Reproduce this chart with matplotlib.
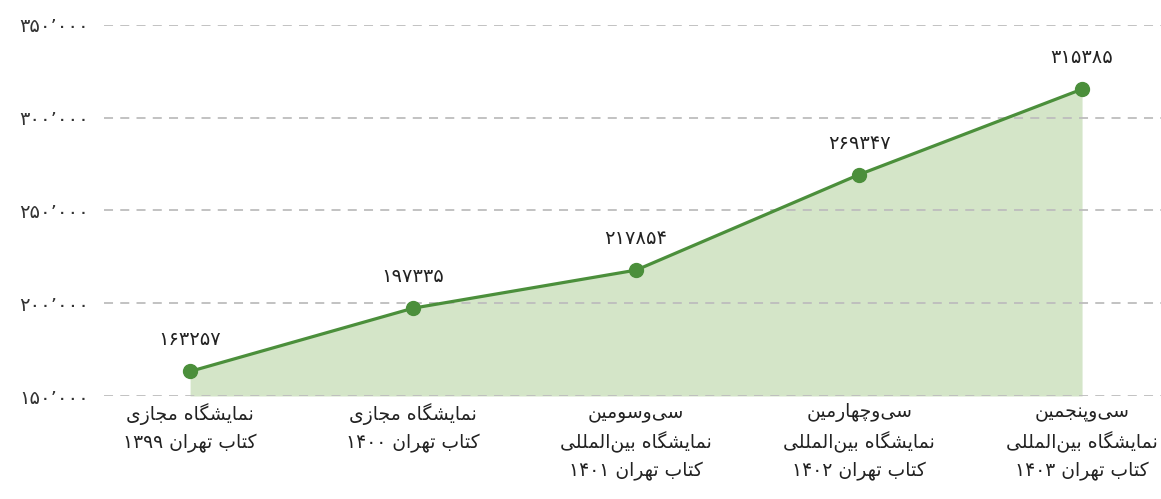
import matplotlib
matplotlib.use("Agg")
import matplotlib.pyplot as plt
from matplotlib.ticker import FuncFormatter

plt.rcParams['font.family'] = ['DejaVu Sans']

categories = [
    "نمایشگاه مجازی\nکتاب تهران ۱۳۹۹",
    "نمایشگاه مجازی\nکتاب تهران ۱۴۰۰",
    "سی‌وسومین\nنمایشگاه بین‌المللی\nکتاب تهران ۱۴۰۱",
    "سی‌وچهارمین\nنمایشگاه بین‌المللی\nکتاب تهران ۱۴۰۲",
    "سی‌وپنجمین\nنمایشگاه بین‌المللی\nکتاب تهران ۱۴۰۳",
]
visitors = [163257, 197335, 217854, 269347, 315385]
y_ticks = [150000, 200000, 250000, 300000, 350000]

# presentation forms: isolated, final, initial, medial
FORMS = {
    'ا': ('\uFE8D', '\uFE8E', None, None),
    'ب': ('\uFE8F', '\uFE90', '\uFE91', '\uFE92'),
    'پ': ('\uFB56', '\uFB57', '\uFB58', '\uFB59'),
    'ت': ('\uFE95', '\uFE96', '\uFE97', '\uFE98'),
    'ج': ('\uFE9D', '\uFE9E', '\uFE9F', '\uFEA0'),
    'چ': ('\uFB7A', '\uFB7B', '\uFB7C', '\uFB7D'),
    'ر': ('\uFEAD', '\uFEAE', None, None),
    'ز': ('\uFEAF', '\uFEB0', None, None),
    'س': ('\uFEB1', '\uFEB2', '\uFEB3', '\uFEB4'),
    'ش': ('\uFEB5', '\uFEB6', '\uFEB7', '\uFEB8'),
    'ک': ('\uFB8E', '\uFB8F', '\uFB90', '\uFB91'),
    'گ': ('\uFB92', '\uFB93', '\uFB94', '\uFB95'),
    'ل': ('\uFEDD', '\uFEDE', '\uFEDF', '\uFEE0'),
    'م': ('\uFEE1', '\uFEE2', '\uFEE3', '\uFEE4'),
    'ن': ('\uFEE5', '\uFEE6', '\uFEE7', '\uFEE8'),
    'و': ('\uFEED', '\uFEEE', None, None),
    'ه': ('\uFEE9', '\uFEEA', '\uFEEB', '\uFEEC'),
    'ی': ('\uFBFC', '\uFBFD', '\uFBFE', '\uFBFF'),
}
PERSIAN_DIGITS = "۰۱۲۳۴۵۶۷۸۹"


def dual(c):
    return c in FORMS and FORMS[c][2] is not None


def shape_line(s):
    out = []
    for i, c in enumerate(s):
        if c not in FORMS:
            out.append(c)
            continue
        prev = s[i - 1] if i > 0 else ''
        nxt = s[i + 1] if i + 1 < len(s) else ''
        p = dual(prev)
        n = dual(c) and nxt in FORMS
        iso, fin, ini, med = FORMS[c]
        if p and n:
            out.append(med)
        elif p:
            out.append(fin)
        elif n:
            out.append(ini)
        else:
            out.append(iso)
    s = ''.join(out).replace('\u200c', '')
    # visual order: reverse, but keep digit runs left to right
    runs, cur, cur_digit = [], '', None
    for c in s:
        d = c in PERSIAN_DIGITS
        if cur and d != cur_digit:
            runs.append((cur, cur_digit))
            cur = ''
        cur += c
        cur_digit = d
    if cur:
        runs.append((cur, cur_digit))
    return ''.join(r if d else r[::-1] for r, d in reversed(runs))


def shape(s):
    return '\n'.join(shape_line(l) for l in s.split('\n'))


def fa_num(v, sep=False):
    s = f"{int(v):,}" if sep else str(int(v))
    return s.translate(str.maketrans("0123456789,", PERSIAN_DIGITS + "٬"))


green = '#4b8f3b'
fill_green = '#d4e5c8'

fig = plt.figure(figsize=(11.61, 4.99), dpi=100)
ax = fig.add_axes([0.0896, 0.2064, 0.9104, 0.7436])

x = list(range(len(visitors)))
ax.fill_between(x, visitors, y_ticks[0], color=fill_green, lw=0, zorder=1)
ax.plot(x, visitors, color=green, lw=2.3, marker='o', ms=10, zorder=3)

for xi, v in zip(x, visitors):
    ax.annotate(fa_num(v), (xi, v), xytext=(0, 22), textcoords='offset pixels',
                ha='center', va='bottom', fontsize=14, color='#222222')

ax.set_xlim(-0.386, 4.354)
ax.set_ylim(y_ticks[0], y_ticks[-1])
ax.set_yticks(y_ticks)
ax.yaxis.set_major_formatter(FuncFormatter(lambda v, p: fa_num(v, sep=True)))
ax.set_xticks(x)
ax.set_xticklabels([shape(c) for c in categories], fontsize=13.5, color='#222222',
                   linespacing=1.55)
ax.tick_params(axis='both', length=0)
ax.tick_params(axis='y', pad=11, labelsize=14, labelcolor='#333333')
ax.tick_params(axis='x', pad=5)
ax.grid(axis='y', color='#bdbdbd', lw=1.3, linestyle=(0, (5, 4)), zorder=2)
ax.set_axisbelow('line')
for sp in ax.spines.values():
    sp.set_visible(False)

fig.savefig('out.png', dpi=100)
